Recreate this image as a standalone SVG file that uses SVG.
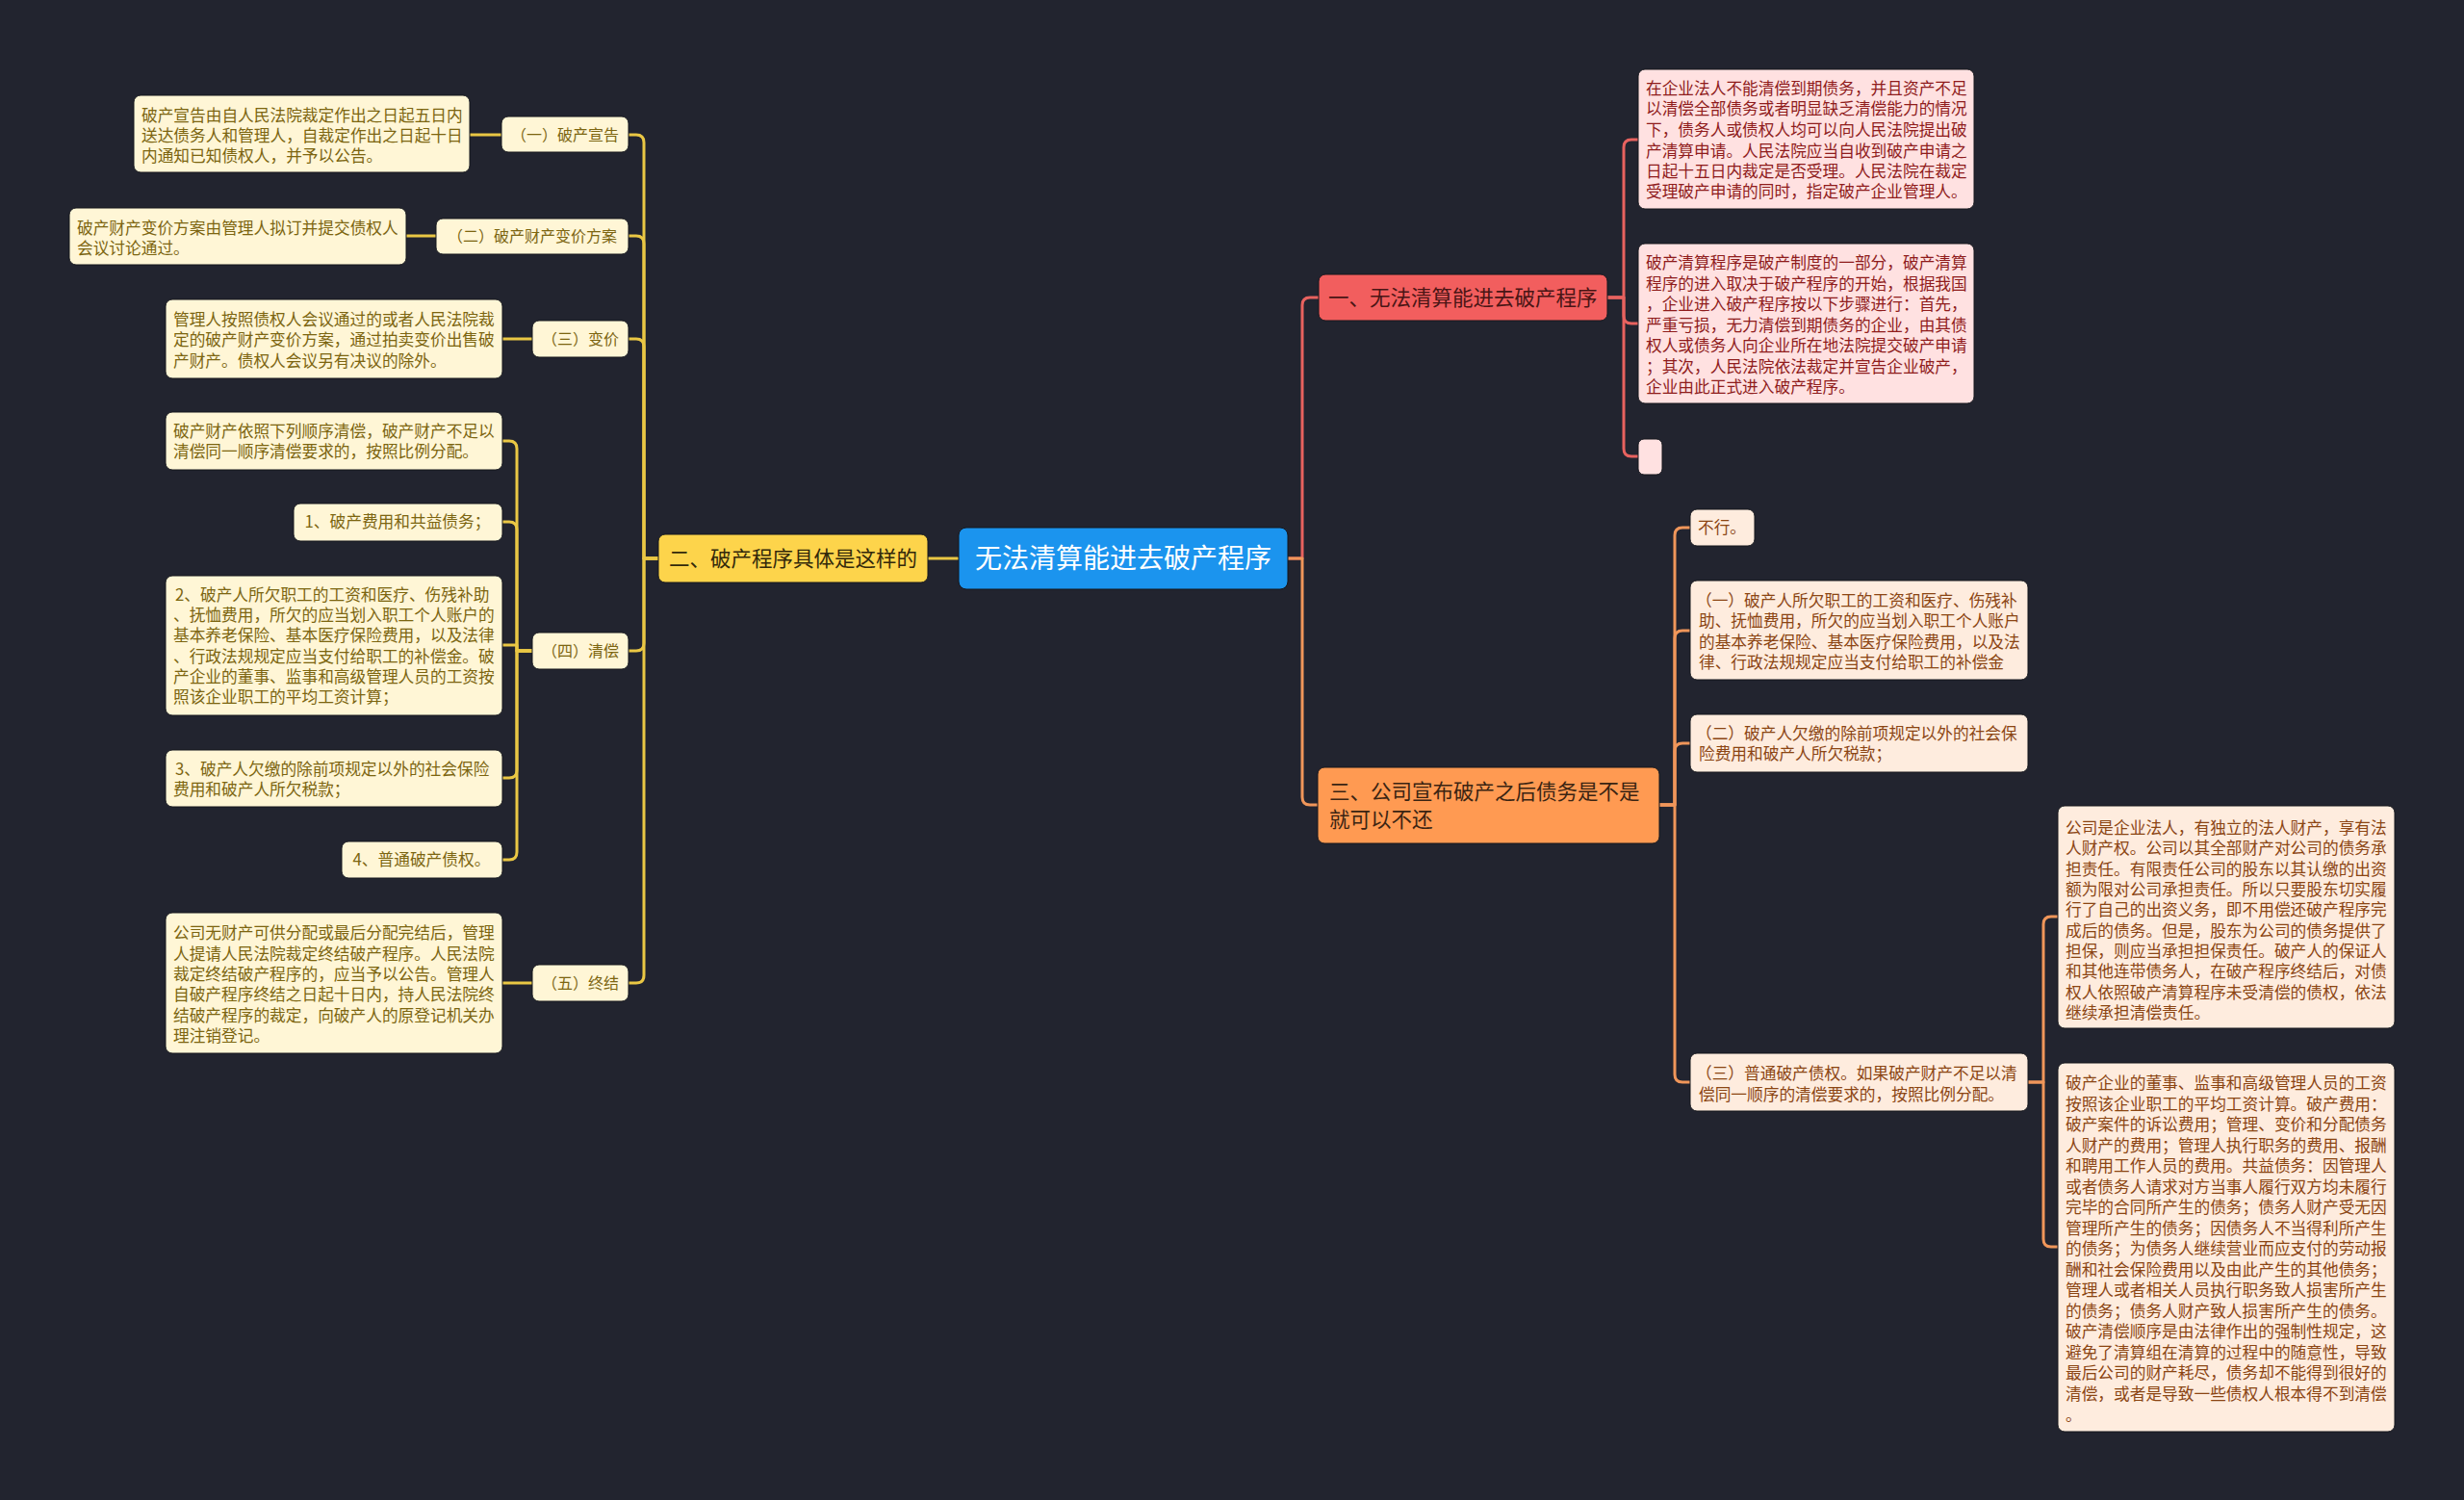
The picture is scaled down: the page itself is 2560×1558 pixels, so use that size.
<svg xmlns="http://www.w3.org/2000/svg" width="2560" height="1558" viewBox="0 0 2560 1558">
<style>
text{font-family:"Noto Sans CJK SC","Noto Sans",sans-serif;}
.c path{fill:none;stroke-width:3;stroke-linejoin:round;stroke-linecap:round;}
.cy path{stroke:#EAC744;}
.cr path{stroke:#E8625F;}
.co path{stroke:#F0965A;}
.by{fill:#FFF6D6;stroke:#15171d;stroke-width:1;}
.ty{fill:#7C6510;font-size:16.7px;}
.bp{fill:#FFE1E1;stroke:#15171d;stroke-width:1;}
.tp{fill:#8F1C1C;font-size:16.7px;}
.bo{fill:#FEECDE;stroke:#15171d;stroke-width:1;}
.to{fill:#8B4513;font-size:16.7px;}
.l1{font-size:21.5px;}
</style>
<rect width="2560" height="1558" fill="#22242F"/>

<g id="connectors" class="c">
 <g class="cy">
  <path d="M995,580 H964"/>
  <path d="M684,580 H669 V148 Q669,140 661,140 H653"/>
  <path d="M684,580 H669 V253 Q669,245 661,245 H653"/>
  <path d="M684,580 H669 V360 Q669,352 661,352 H653"/>
  <path d="M684,580 H669 V668 Q669,676 661,676 H653"/>
  <path d="M684,580 H669 V1013 Q669,1021 661,1021 H653"/>
  <path d="M521,140 H488"/>
  <path d="M453,245 H422"/>
  <path d="M553,352 H522"/>
  <path d="M553,1021 H522"/>
  <path d="M553,676 H537 V466 Q537,458 529,458 H522"/>
  <path d="M553,676 H537 V550 Q537,542 529,542 H522"/>
  <path d="M553,676 H537 V670 H522"/>
  <path d="M553,676 H537 V800 Q537,808 529,808 H522"/>
  <path d="M553,676 H537 V885 Q537,893 529,893 H522"/>
 </g>
 <g class="cr">
  <path d="M1338,580 H1353 V317 Q1353,309 1361,309 H1370"/>
  <path d="M1670,309 H1687 V153 Q1687,145 1695,145 H1702"/>
  <path d="M1670,309 H1687 V328 Q1687,336 1695,336 H1702"/>
  <path d="M1670,309 H1687 V466 Q1687,474 1695,474 H1702"/>
 </g>
 <g class="co">
  <path d="M1338,580 H1353 V828 Q1353,836 1361,836 H1369"/>
  <path d="M1724,836 H1740 V556 Q1740,548 1748,548 H1756"/>
  <path d="M1724,836 H1740 V663 Q1740,655 1748,655 H1756"/>
  <path d="M1724,836 H1740 V780 Q1740,772 1748,772 H1756"/>
  <path d="M1724,836 H1740 V1116 Q1740,1124 1748,1124 H1756"/>
  <path d="M2107,1124 H2123 V960 Q2123,952 2131,952 H2138"/>
  <path d="M2107,1124 H2123 V1287 Q2123,1295 2131,1295 H2138"/>
 </g>
</g>

<g id="root">
 <rect x="996" y="548" width="342" height="64" rx="8" fill="#1B94EE" stroke="#15171d" stroke-width="1"/>
 <text x="1167" y="590" font-size="28" fill="#FFFFFF" text-anchor="middle">无法清算能进去破产程序</text>
</g>

<g id="n2">
 <rect x="684" y="555" width="280" height="50" rx="7" fill="#FDD44B" stroke="#15171d" stroke-width="1"/>
 <text x="824" y="588" class="l1" fill="#33290A" text-anchor="middle">二、破产程序具体是这样的</text>
</g>

<g id="n2-1">
 <rect x="521" y="121" width="132" height="37" rx="7" class="by"/>
 <text x="587" y="146" class="ty" style="font-size:16px" text-anchor="middle">（一）破产宣告</text>
</g>
<g id="n2-1-1">
 <rect x="139" y="99" width="349" height="80" rx="7" class="by"/>
 <text class="ty"><tspan x="147" y="126">破产宣告由自人民法院裁定作出之日起五日内</tspan><tspan x="147" y="147">送达债务人和管理人，自裁定作出之日起十日</tspan><tspan x="147" y="168">内通知已知债权人，并予以公告。</tspan></text>
</g>
<g id="n2-2">
 <rect x="453" y="227" width="200" height="37" rx="7" class="by"/>
 <text x="553" y="251" class="ty" style="font-size:16px" text-anchor="middle">（二）破产财产变价方案</text>
</g>
<g id="n2-2-1">
 <rect x="72" y="216" width="350" height="59" rx="7" class="by"/>
 <text class="ty"><tspan x="80" y="243">破产财产变价方案由管理人拟订并提交债权人</tspan><tspan x="80" y="264">会议讨论通过。</tspan></text>
</g>
<g id="n2-3">
 <rect x="553" y="333" width="100" height="38" rx="7" class="by"/>
 <text x="603" y="358" class="ty" style="font-size:16px" text-anchor="middle">（三）变价</text>
</g>
<g id="n2-3-1">
 <rect x="172" y="311" width="350" height="82" rx="7" class="by"/>
 <text class="ty"><tspan x="180" y="338">管理人按照债权人会议通过的或者人民法院裁</tspan><tspan x="180" y="359">定的破产财产变价方案，通过拍卖变价出售破</tspan><tspan x="180" y="381">产财产。债权人会议另有决议的除外。</tspan></text>
</g>
<g id="n2-4">
 <rect x="553" y="657" width="100" height="38" rx="7" class="by"/>
 <text x="603" y="682" class="ty" style="font-size:16px" text-anchor="middle">（四）清偿</text>
</g>
<g id="n2-4-1">
 <rect x="172" y="428" width="350" height="60" rx="7" class="by"/>
 <text class="ty"><tspan x="180" y="454">破产财产依照下列顺序清偿，破产财产不足以</tspan><tspan x="180" y="475">清偿同一顺序清偿要求的，按照比例分配。</tspan></text>
</g>
<g id="n2-4-2">
 <rect x="305" y="523" width="217" height="39" rx="7" class="by"/>
 <text x="413" y="548" class="ty" text-anchor="middle">1、破产费用和共益债务；</text>
</g>
<g id="n2-4-3">
 <rect x="172" y="598" width="350" height="145" rx="7" class="by"/>
 <text class="ty"><tspan x="182" y="624">2、破产人所欠职工的工资和医疗、伤残补助</tspan><tspan x="180" y="645">、抚恤费用，所欠的应当划入职工个人账户的</tspan><tspan x="180" y="666">基本养老保险、基本医疗保险费用，以及法律</tspan><tspan x="180" y="688">、行政法规规定应当支付给职工的补偿金。破</tspan><tspan x="180" y="709">产企业的董事、监事和高级管理人员的工资按</tspan><tspan x="180" y="730">照该企业职工的平均工资计算；</tspan></text>
</g>
<g id="n2-4-4">
 <rect x="172" y="779" width="350" height="59" rx="7" class="by"/>
 <text class="ty"><tspan x="182" y="805">3、破产人欠缴的除前项规定以外的社会保险</tspan><tspan x="180" y="826">费用和破产人所欠税款；</tspan></text>
</g>
<g id="n2-4-5">
 <rect x="355" y="874" width="167" height="38" rx="7" class="by"/>
 <text x="438" y="899" class="ty" text-anchor="middle">4、普通破产债权。</text>
</g>
<g id="n2-5">
 <rect x="553" y="1002" width="100" height="38" rx="7" class="by"/>
 <text x="603" y="1027" class="ty" style="font-size:16px" text-anchor="middle">（五）终结</text>
</g>
<g id="n2-5-1">
 <rect x="172" y="948" width="350" height="146" rx="7" class="by"/>
 <text class="ty"><tspan x="180" y="975">公司无财产可供分配或最后分配完结后，管理</tspan><tspan x="180" y="997">人提请人民法院裁定终结破产程序。人民法院</tspan><tspan x="180" y="1018">裁定终结破产程序的，应当予以公告。管理人</tspan><tspan x="180" y="1039">自破产程序终结之日起十日内，持人民法院终</tspan><tspan x="180" y="1061">结破产程序的裁定，向破产人的原登记机关办</tspan><tspan x="180" y="1082">理注销登记。</tspan></text>
</g>

<g id="n1">
 <rect x="1370" y="285" width="300" height="48" rx="7" fill="#F25E5E" stroke="#15171d" stroke-width="1"/>
 <text x="1380" y="317" class="l1" fill="#4A1515">一、无法清算能进去破产程序</text>
</g>
<g id="n1-1">
 <rect x="1702" y="72" width="349" height="145" rx="7" class="bp"/>
 <text class="tp"><tspan x="1710" y="98">在企业法人不能清偿到期债务，并且资产不足</tspan><tspan x="1710" y="119">以清偿全部债务或者明显缺乏清偿能力的情况</tspan><tspan x="1710" y="141">下，债务人或债权人均可以向人民法院提出破</tspan><tspan x="1710" y="163">产清算申请。人民法院应当自收到破产申请之</tspan><tspan x="1710" y="184">日起十五日内裁定是否受理。人民法院在裁定</tspan><tspan x="1710" y="205">受理破产申请的同时，指定破产企业管理人。</tspan></text>
</g>
<g id="n1-2">
 <rect x="1702" y="253" width="349" height="166" rx="7" class="bp"/>
 <text class="tp"><tspan x="1710" y="279">破产清算程序是破产制度的一部分，破产清算</tspan><tspan x="1710" y="301">程序的进入取决于破产程序的开始，根据我国</tspan><tspan x="1710" y="322">，企业进入破产程序按以下步骤进行：首先，</tspan><tspan x="1710" y="344">严重亏损，无力清偿到期债务的企业，由其债</tspan><tspan x="1710" y="365">权人或债务人向企业所在地法院提交破产申请</tspan><tspan x="1710" y="387">；其次，人民法院依法裁定并宣告企业破产，</tspan><tspan x="1710" y="408">企业由此正式进入破产程序。</tspan></text>
</g>
<g id="n1-3">
 <rect x="1702" y="456" width="25" height="37" rx="6" class="bp"/>
</g>

<g id="n3">
 <rect x="1369" y="797" width="355" height="79" rx="7" fill="#FF9A52" stroke="#15171d" stroke-width="1"/>
 <text class="l1" fill="#3A2412"><tspan x="1381" y="830">三、公司宣布破产之后债务是不是</tspan><tspan x="1381" y="859">就可以不还</tspan></text>
</g>
<g id="n3-1">
 <rect x="1756" y="529" width="67" height="38" rx="7" class="bo"/>
 <text x="1764" y="554" class="to">不行。</text>
</g>
<g id="n3-2">
 <rect x="1756" y="603" width="351" height="103" rx="7" class="bo"/>
 <text class="to"><tspan x="1762" y="630">（一）破产人所欠职工的工资和医疗、伤残补</tspan><tspan x="1765" y="651">助、抚恤费用，所欠的应当划入职工个人账户</tspan><tspan x="1765" y="673">的基本养老保险、基本医疗保险费用，以及法</tspan><tspan x="1765" y="694">律、行政法规规定应当支付给职工的补偿金</tspan></text>
</g>
<g id="n3-3">
 <rect x="1756" y="742" width="351" height="60" rx="7" class="bo"/>
 <text class="to"><tspan x="1762" y="768">（二）破产人欠缴的除前项规定以外的社会保</tspan><tspan x="1765" y="789">险费用和破产人所欠税款；</tspan></text>
</g>
<g id="n3-4">
 <rect x="1756" y="1094" width="351" height="60" rx="7" class="bo"/>
 <text class="to"><tspan x="1762" y="1121">（三）普通破产债权。如果破产财产不足以清</tspan><tspan x="1765" y="1143">偿同一顺序的清偿要求的，按照比例分配。</tspan></text>
</g>
<g id="n3-4-1">
 <rect x="2138" y="837" width="350" height="231" rx="7" class="bo"/>
 <text class="to"><tspan x="2146" y="866">公司是企业法人，有独立的法人财产，享有法</tspan><tspan x="2146" y="887">人财产权。公司以其全部财产对公司的债务承</tspan><tspan x="2146" y="909">担责任。有限责任公司的股东以其认缴的出资</tspan><tspan x="2146" y="930">额为限对公司承担责任。所以只要股东切实履</tspan><tspan x="2146" y="951">行了自己的出资义务，即不用偿还破产程序完</tspan><tspan x="2146" y="973">成后的债务。但是，股东为公司的债务提供了</tspan><tspan x="2146" y="994">担保，则应当承担担保责任。破产人的保证人</tspan><tspan x="2146" y="1015">和其他连带债务人，在破产程序终结后，对债</tspan><tspan x="2146" y="1037">权人依照破产清算程序未受清偿的债权，依法</tspan><tspan x="2146" y="1058">继续承担清偿责任。</tspan></text>
</g>
<g id="n3-4-2">
 <rect x="2138" y="1104" width="350" height="383" rx="7" class="bo"/>
 <text class="to"><tspan x="2146" y="1131">破产企业的董事、监事和高级管理人员的工资</tspan><tspan x="2146" y="1153">按照该企业职工的平均工资计算。破产费用：</tspan><tspan x="2146" y="1174">破产案件的诉讼费用；管理、变价和分配债务</tspan><tspan x="2146" y="1196">人财产的费用；管理人执行职务的费用、报酬</tspan><tspan x="2146" y="1217">和聘用工作人员的费用。共益债务：因管理人</tspan><tspan x="2146" y="1239">或者债务人请求对方当事人履行双方均未履行</tspan><tspan x="2146" y="1260">完毕的合同所产生的债务；债务人财产受无因</tspan><tspan x="2146" y="1282">管理所产生的债务；因债务人不当得利所产生</tspan><tspan x="2146" y="1303">的债务；为债务人继续营业而应支付的劳动报</tspan><tspan x="2146" y="1325">酬和社会保险费用以及由此产生的其他债务；</tspan><tspan x="2146" y="1346">管理人或者相关人员执行职务致人损害所产生</tspan><tspan x="2146" y="1368">的债务；债务人财产致人损害所产生的债务。</tspan><tspan x="2146" y="1389">破产清偿顺序是由法律作出的强制性规定，这</tspan><tspan x="2146" y="1411">避免了清算组在清算的过程中的随意性，导致</tspan><tspan x="2146" y="1432">最后公司的财产耗尽，债务却不能得到很好的</tspan><tspan x="2146" y="1454">清偿，或者是导致一些债权人根本得不到清偿</tspan><tspan x="2146" y="1476">。</tspan></text>
</g>
</svg>
